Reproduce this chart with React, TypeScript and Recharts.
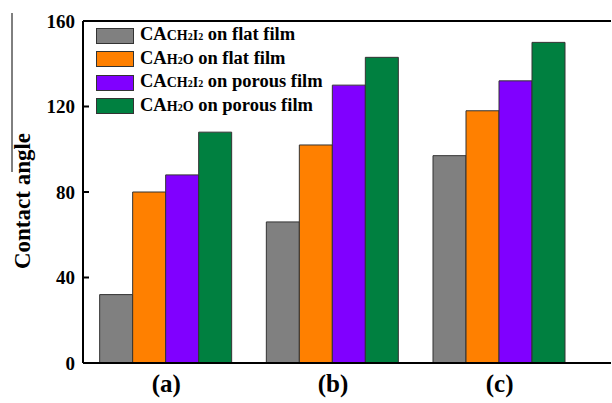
import React from 'react';
import {
  BarChart,
  Bar,
  XAxis,
  YAxis,
  Legend,
  ReferenceLine,
} from 'recharts';

const samples = ['(a)', '(b)', '(c)'];
const ch2i2Flat = [32, 66, 97];
const h2oFlat = [80, 102, 118];
const ch2i2Porous = [88, 130, 132];
const h2oPorous = [108, 143, 150];
const yTicks = [0, 40, 80, 120, 160];

const FONT = '"Liberation Serif", "Times New Roman", serif';

const data = samples.map((name, i) => ({
  name,
  ch2i2Flat: ch2i2Flat[i],
  h2oFlat: h2oFlat[i],
  ch2i2Porous: ch2i2Porous[i],
  h2oPorous: h2oPorous[i],
}));

const sub = { fontSize: 14 };
const tiny = { fontSize: 10 };

const CH2I2 = (
  <span style={sub}>
    CH<span style={tiny}>2</span>I<span style={tiny}>2</span>
  </span>
);
const H2O = (
  <span style={sub}>
    H<span style={tiny}>2</span>O
  </span>
);

const legendRows = [
  { color: '#808080', solvent: CH2I2, film: 'flat film' },
  { color: '#FF8000', solvent: H2O, film: 'flat film' },
  { color: '#8000FF', solvent: CH2I2, film: 'porous film' },
  { color: '#008040', solvent: H2O, film: 'porous film' },
];

const LegendBox = () => (
  <div style={{ fontFamily: FONT, fontWeight: 'bold', fontSize: 18.5, color: '#000', whiteSpace: 'nowrap' }}>
    {legendRows.map((r, i) => (
      <div key={i} style={{ display: 'flex', alignItems: 'center', height: 23.5 }}>
        <div
          style={{
            width: 36,
            height: 14,
            background: r.color,
            border: '1px solid #333',
            marginRight: 6,
          }}
        />
        <span style={{ lineHeight: '20px' }}>
          CA{r.solvent} on {r.film}
        </span>
      </div>
    ))}
  </div>
);

export default function App() {
  return (
    <div style={{ position: 'absolute', left: 0, top: 0, width: 612, height: 403, background: '#fff' }}>
      <svg width={612} height={403} style={{ position: 'absolute', left: 0, top: 0 }}>
        <line x1={12} y1={13} x2={12} y2={172} stroke="#000" strokeWidth={1} />
        <text
          x={30}
          y={201}
          transform="rotate(-90 30 201)"
          textAnchor="middle"
          fontFamily={FONT}
          fontWeight="bold"
          fontSize={23}
          fill="#000"
        >
          Contact angle
        </text>
      </svg>
      <BarChart
        width={612}
        height={403}
        data={data}
        margin={{ top: 21, right: 1, left: 0, bottom: 0 }}
        barCategoryGap="10%"
        barGap={0}
        style={{ position: 'absolute', left: 0, top: 0 }}
      >
        <XAxis
          dataKey="name"
          height={40}
          padding={{ left: 0, right: 28 }}
          axisLine={{ stroke: '#000', strokeWidth: 2 }}
          tickLine={false}
          tickMargin={5}
          tick={{ fontFamily: FONT, fontWeight: 'bold', fontSize: 25, fill: '#000' }}
        />
        <YAxis
          width={83}
          domain={[0, 160]}
          ticks={yTicks}
          allowDataOverflow
          axisLine={{ stroke: '#000', strokeWidth: 2 }}
          tickLine={{ stroke: '#000', strokeWidth: 2 }}
          tickSize={-6}
          tickMargin={14}
          tick={{ fontFamily: FONT, fontWeight: 'bold', fontSize: 19, fill: '#000' }}
        />
        <ReferenceLine y={160} stroke="#000" strokeWidth={2} />
        <Legend
          verticalAlign="middle"
          align="center"
          layout="vertical"
          content={<LegendBox />}
          wrapperStyle={{ position: 'absolute', top: 24, left: 96, width: 'auto', height: 'auto' }}
        />
        <Bar dataKey="ch2i2Flat" fill="#808080" stroke="#333" strokeWidth={1} isAnimationActive={false} />
        <Bar dataKey="h2oFlat" fill="#FF8000" stroke="#333" strokeWidth={1} isAnimationActive={false} />
        <Bar dataKey="ch2i2Porous" fill="#8000FF" stroke="#333" strokeWidth={1} isAnimationActive={false} />
        <Bar dataKey="h2oPorous" fill="#008040" stroke="#333" strokeWidth={1} isAnimationActive={false} />
      </BarChart>
    </div>
  );
}
